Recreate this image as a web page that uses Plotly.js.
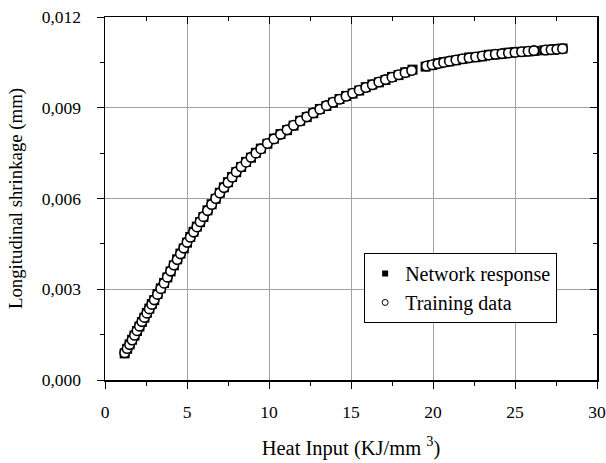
<!DOCTYPE html>
<html>
<head>
<meta charset="utf-8">
<script src="https://cdn.plot.ly/plotly-3.0.1.min.js"></script>
<style>html,body{margin:0;padding:0;background:#fff;}#chart{width:606px;height:463px;}</style>
</head>
<body>
<div id="chart"></div>
<script>
// Training data (heat input KJ/mm^3, longitudinal shrinkage mm)
var trainX = [1.2,1.35,1.5,1.65,1.8,1.95,2.1,2.25,2.4,2.55,2.7,2.85,3.0,3.2,3.4,3.6,3.8,4.0,4.2,4.4,4.6,4.8,5.0,5.2,5.4,5.6,5.8,6.0,6.25,6.5,6.75,7.0,7.25,7.5,7.75,8.0,8.3,8.6,8.9,9.2,9.5,9.9,10.3,10.7,11.1,11.5,11.9,12.3,12.7,13.1,13.5,13.9,14.3,14.7,15.1,15.5,15.9,16.3,16.7,17.1,17.5,17.9,18.3,18.7,19.6,19.95,20.3,20.65,21.0,21.4,21.8,22.2,22.6,23.0,23.4,23.8,24.2,24.6,25.0,25.4,25.8,26.15,26.85,27.2,27.55,27.9];
var trainY = [0.00090,0.00104,0.00117,0.00132,0.00148,0.00163,0.00178,0.00193,0.00207,0.00221,0.00235,0.00250,0.00265,0.00283,0.00302,0.00320,0.00340,0.00360,0.00380,0.00398,0.00417,0.00436,0.00455,0.00472,0.00489,0.00506,0.00523,0.00540,0.00560,0.00580,0.00600,0.00618,0.00636,0.00653,0.00670,0.00688,0.00705,0.00720,0.00736,0.00750,0.00764,0.00782,0.00797,0.00812,0.00827,0.00842,0.00856,0.00870,0.00883,0.00895,0.00907,0.00918,0.00928,0.00938,0.00948,0.00958,0.00967,0.00976,0.00985,0.00993,0.01001,0.01009,0.01016,0.01023,0.01038,0.01042,0.01046,0.01050,0.01054,0.01058,0.01062,0.01065,0.01068,0.01071,0.01074,0.01077,0.01079,0.01081,0.01083,0.01085,0.01087,0.01089,0.01091,0.01092,0.01093,0.01095];
// Network response
var netX = [1.2,1.35,1.5,1.65,1.8,1.95,2.1,2.25,2.4,2.55,2.7,2.85,3.0,3.2,3.4,3.6,3.8,4.0,4.2,4.4,4.6,4.8,5.0,5.2,5.4,5.6,5.8,6.0,6.25,6.5,6.75,7.0,7.25,7.5,7.75,8.0,8.3,8.6,8.9,9.2,9.5,9.9,10.3,10.7,11.1,11.5,11.9,12.3,12.7,13.1,13.5,13.9,14.3,14.7,15.1,15.5,15.9,16.3,16.7,17.1,17.5,17.9,18.3,18.75,19.55,19.95,20.3,20.65,21.0,21.4,21.8,22.2,22.6,23.0,23.4,23.8,24.2,24.6,25.0,25.4,25.8,26.2,26.8,27.2,27.55,27.9];
var netY = [0.00088,0.00103,0.00118,0.00133,0.00147,0.00162,0.00177,0.00192,0.00206,0.00222,0.00236,0.00251,0.00264,0.00284,0.00303,0.00321,0.00339,0.00359,0.00379,0.00399,0.00418,0.00435,0.00454,0.00473,0.00490,0.00507,0.00522,0.00539,0.00561,0.00581,0.00599,0.00619,0.00637,0.00654,0.00671,0.00687,0.00704,0.00721,0.00735,0.00751,0.00765,0.00781,0.00798,0.00813,0.00826,0.00841,0.00857,0.00869,0.00882,0.00896,0.00906,0.00917,0.00929,0.00939,0.00947,0.00957,0.00968,0.00977,0.00984,0.00992,0.01002,0.01008,0.01017,0.01026,0.01036,0.01041,0.01047,0.01051,0.01053,0.01057,0.01061,0.01066,0.01067,0.01070,0.01075,0.01076,0.01078,0.01082,0.01084,0.01085,0.01086,0.01088,0.01090,0.01092,0.01094,0.01096];

var FONT = "'Liberation Serif', 'Times New Roman', serif";

var traces = [
  {x: netX, y: netY, type: 'scatter', mode: 'markers', showlegend: false, hoverinfo: 'skip',
   marker: {symbol: 'square', size: 10, color: '#000'}},
  {x: trainX, y: trainY, type: 'scatter', mode: 'markers', showlegend: false, hoverinfo: 'skip',
   marker: {symbol: 'circle', size: 9.5, color: '#fff', line: {color: '#000', width: 1.6}}},
  {x: [null], y: [null], type: 'scatter', mode: 'markers', name: 'Network response', legendgroup: 'net',
   marker: {symbol: 'square', size: 6, color: '#000'}},
  {x: [null], y: [null], type: 'scatter', mode: 'markers', name: 'Training data', legendgroup: 'train',
   marker: {symbol: 'circle', size: 6, color: '#fff', line: {color: '#000', width: 1}}},
  {x: [null], y: [null], xaxis: 'x2', yaxis: 'y2', type: 'scatter', mode: 'markers',
   showlegend: false, hoverinfo: 'skip', marker: {opacity: 0}}
];

var layout = {
  width: 606, height: 463,
  margin: {l: 105, r: 9, t: 17, b: 83},
  paper_bgcolor: '#fff', plot_bgcolor: '#fff',
  separators: ', ',
  font: {family: FONT, size: 18, color: '#000'},
  showlegend: true,
  legend: {x: 0.919, y: 0.35, xanchor: 'right', yanchor: 'top', bgcolor: '#fff',
           bordercolor: '#000', borderwidth: 1, font: {family: FONT, size: 20, color: '#000'},
           traceorder: 'grouped', tracegroupgap: 0, itemwidth: 30},
  xaxis: {range: [0, 30], dtick: 5, tick0: 0, ticks: 'outside', ticklen: 7, tickwidth: 1, tickcolor: '#000',
          showline: true, linecolor: '#000', linewidth: 1.5, showgrid: true, gridcolor: '#a0a0a0', gridwidth: 1,
          zeroline: false, tickfont: {family: FONT, size: 17.5, color: '#000'}, ticklabeloverflow: 'allow',
          ticklabelstandoff: 8,
          minor: {dtick: 2.5, ticks: 'outside', ticklen: 4, tickcolor: '#000', showgrid: false},
          title: {text: 'Heat Input (KJ/mm <sup>3</sup>)', font: {family: FONT, size: 20.5, color: '#000'}, standoff: 20}},
  yaxis: {range: [0, 0.012], dtick: 0.003, tick0: 0, tickformat: '.3f', ticks: 'outside', ticklen: 7, tickwidth: 1, tickcolor: '#000',
          showline: true, linecolor: '#000', linewidth: 1.5, showgrid: true, gridcolor: '#a0a0a0', gridwidth: 1,
          zeroline: false, tickfont: {family: FONT, size: 17.5, color: '#000'}, ticklabeloverflow: 'allow',
          ticklabelstandoff: 12,
          minor: {dtick: 0.0015, ticks: 'outside', ticklen: 4, tickcolor: '#000', showgrid: false},
          title: {text: 'Longitudinal shrinkage (mm)', font: {family: FONT, size: 18.8, color: '#000'}, standoff: 14}},
  xaxis2: {overlaying: 'x', side: 'top', range: [0, 30], dtick: 5, tick0: 0, ticks: 'inside', ticklen: 7, tickcolor: '#000',
           showticklabels: false, showline: true, linecolor: '#000', linewidth: 1.5, showgrid: false, zeroline: false,
           minor: {dtick: 2.5, ticks: 'inside', ticklen: 4, tickcolor: '#000', showgrid: false}},
  yaxis2: {overlaying: 'y', side: 'right', range: [0, 0.012], dtick: 0.003, tick0: 0, ticks: 'inside', ticklen: 7, tickcolor: '#000',
           showticklabels: false, showline: true, linecolor: '#000', linewidth: 1.5, showgrid: false, zeroline: false,
           minor: {dtick: 0.0015, ticks: 'inside', ticklen: 4, tickcolor: '#000', showgrid: false}}
};

Plotly.newPlot('chart', traces, layout, {staticPlot: true, displayModeBar: false});
</script>
</body>
</html>
